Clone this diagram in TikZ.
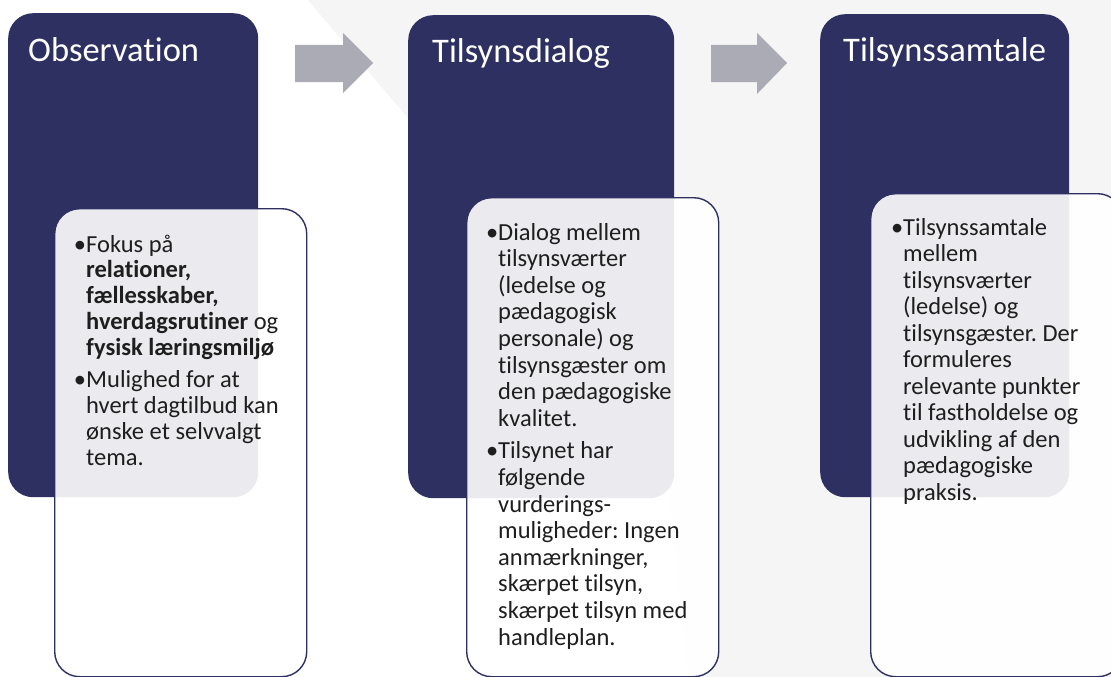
\documentclass[tikz,border=0pt]{standalone}
\usepackage{fontspec}
\setmainfont{Carlito}[Ligatures={NoCommon}]
\definecolor{navy}{HTML}{2E3062}
\definecolor{arrowgray}{HTML}{ABABB5}
\definecolor{bggray}{HTML}{F5F5F5}
\definecolor{bodyblack}{HTML}{1E1E1E}
\newcommand\mybody[1]{\fontsize{24.5}{#1}\selectfont\raggedright\frenchspacing}
\newcommand\mybullet{\leavevmode\llap{•}}
\begin{document}
\begin{tikzpicture}[x=1pt,y=-1pt,
  darkbox/.style={fill=navy, draw=none, rounded corners=25pt, inner sep=0pt, anchor=north west},
  textbox/.style={fill=white, fill opacity=0.9, draw=navy, draw opacity=1, line width=1.4pt, rounded corners=25pt, inner sep=0pt, anchor=north west},
  titletext/.style={text=white, font=\fontsize{34.5}{40}\selectfont, inner sep=0pt, anchor=base west},
  bodytext/.style={text=bodyblack, inner sep=0pt, anchor=base west},
  blockarrow/.style={fill=arrowgray, draw=none}]
\useasboundingbox (0,0) rectangle (1111,677);
\clip (0,0) rectangle (1111,677);
\fill[white] (0,0) rectangle (1111,677);
% background shape
\fill[bggray] (308,0) -- (662,418) -- (688,677) -- (1111,677) -- (1111,0) -- cycle;
% dark boxes
\node[darkbox, minimum width=250pt, minimum height=484pt] (d1) at (8,13) {};
\node[darkbox, minimum width=266pt, minimum height=483pt] (d2) at (408,15) {};
\node[darkbox, minimum width=249pt, minimum height=483pt] (d3) at (820,14) {};
% block arrows
\fill[blockarrow] (295,45) -- (343,45) -- (343,33) -- (373,63) -- (343,93) -- (343,82) -- (295,82) -- cycle;
\fill[blockarrow] (711,45) -- (757,45) -- (757,33) -- (787,63) -- (757,94) -- (757,82) -- (711,82) -- cycle;
% titles
\node[titletext] (h1) at (28,62) {Observation};
\node[titletext] (h2) at (432,63) {Tilsynsdialog};
\node[titletext] (h3) at (843,62) {Tilsynssamtale};
% text boxes
\node[textbox, minimum width=252pt, minimum height=468pt] (b1) at (54,208) {};
\node[textbox, minimum width=252pt, minimum height=479pt] (b2) at (466,197) {};
\node[textbox, minimum width=252pt, minimum height=483pt] (b3) at (870,193) {};
% body texts
\node[bodytext] (t1) at (86,252) {\parbox[t]{300pt}{\mybody{25.9}
\mybullet Fokus på\\
\textbf{relationer,}\\
\textbf{fællesskaber,}\\
\textbf{hverdagsrutiner} og\\
\textbf{fysisk læringsmiljø}\\[6pt]
\mybullet Mulighed for at\\
hvert dagtilbud kan\\
ønske et selvvalgt\\
tema.}};
\node[bodytext] (t2) at (498,240) {\parbox[t]{300pt}{\mybody{26.6}
\mybullet Dialog mellem\\
tilsynsværter\\
(ledelse og\\
pædagogisk\\
personale) og\\
tilsynsgæster om\\
den pædagogiske\\
kvalitet.\\[6pt]
\mybullet Tilsynet har\\
følgende\\
vurderings-\\
muligheder: Ingen\\
anmærkninger,\\
skærpet tilsyn,\\
skærpet tilsyn med\\
handleplan.}};
\node[bodytext] (t3) at (903,235) {\parbox[t]{300pt}{\mybody{26.5}
\mybullet Tilsynssamtale\\
mellem\\
tilsynsværter\\
(ledelse) og\\
tilsynsgæster. Der\\
formuleres\\
relevante punkter\\
til fastholdelse og\\
udvikling af den\\
pædagogiske\\
praksis.}};
\end{tikzpicture}
\end{document}
